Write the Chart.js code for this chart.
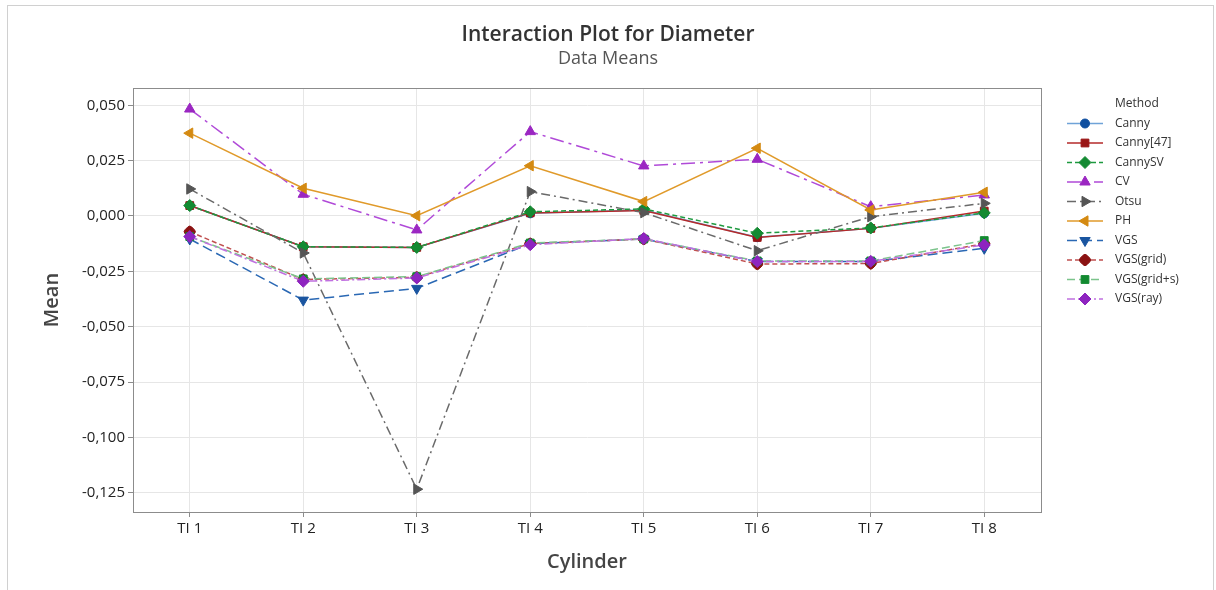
<!DOCTYPE html>
<html>
<head>
<meta charset="utf-8">
<script src="https://cdn.jsdelivr.net/npm/chart.js@4.4.0/dist/chart.umd.min.js"></script>
<style>
  html, body { margin: 0; padding: 0; background: #fff; }
  #wrap { position: relative; width: 1216px; height: 590px; }
</style>
</head>
<body>
<div id="wrap"><canvas id="c" width="1216" height="590"></canvas></div>
<script>
const categories = ['TI 1', 'TI 2', 'TI 3', 'TI 4', 'TI 5', 'TI 6', 'TI 7', 'TI 8'];
const yTicks = [0.050, 0.025, 0.000, -0.025, -0.050, -0.075, -0.100, -0.125];

const canny      = [0.0047, -0.0139, -0.0142, 0.0012, 0.0027, -0.0096, -0.0056, 0.0012];
const canny47    = [0.0047, -0.0139, -0.0142, 0.0014, 0.0025, -0.0097, -0.0056, 0.0022];
const cannySV    = [0.0047, -0.0139, -0.0142, 0.0019, 0.0032, -0.0078, -0.0054, 0.0014];
const cv         = [0.0483, 0.0098, -0.0063, 0.0381, 0.0226, 0.0256, 0.0042, 0.0095];
const otsu       = [0.0122, -0.0167, -0.1234, 0.0110, 0.0015, -0.0157, -0.0003, 0.0057];
const ph         = [0.0374, 0.0125, 0.0001, 0.0227, 0.0065, 0.0306, 0.0027, 0.0107];
const vgs        = [-0.0104, -0.0380, -0.0327, -0.0125, -0.0104, -0.0206, -0.0206, -0.0146];
const vgsGrid    = [-0.0071, -0.0287, -0.0277, -0.0125, -0.0104, -0.0217, -0.0215, -0.0125];
const vgsGridS   = [-0.0093, -0.0284, -0.0274, -0.0122, -0.0104, -0.0203, -0.0203, -0.0111];
const vgsRay     = [-0.0093, -0.0295, -0.0280, -0.0130, -0.0102, -0.0206, -0.0205, -0.0131];

function ds(label, data, line, marker, dash, style, rot, radius) {
  return {
    label, data,
    borderColor: line, backgroundColor: marker,
    pointBackgroundColor: marker, pointBorderColor: marker,
    borderWidth: 1.5, borderDash: dash,
    pointStyle: style, pointRotation: rot || 0,
    pointRadius: radius || 5.5, pointBorderWidth: 1,
    tension: 0, fill: false
  };
}

const datasets = [
  ds('Canny', canny, '#6fa3d8', '#0f4fa0', [], 'circle', 0, 4.5),
  ds('Canny[47]', canny47, '#b52a2a', '#9a1616', [], 'rect', 0, 5.5),
  ds('CannySV', cannySV, '#1e9a40', '#148a32', [5, 3], 'rectRot', 0, 6),
  ds('CV', cv, '#b04ad8', '#9b27c2', [14, 5, 3, 5], 'triangle', 0, 6),
  ds('Otsu', otsu, '#6a6a6a', '#555555', [9, 4, 2, 4], 'triangle', 90, 6),
  ds('PH', ph, '#e09a2a', '#d48a12', [], 'triangle', 270, 6),
  ds('VGS', vgs, '#2a68b4', '#1a55a0', [10, 5], 'triangle', 180, 6),
  ds('VGS(grid)', vgsGrid, '#c05050', '#8b1212', [5, 3], 'rectRounded', 45, 5.5),
  ds('VGS(grid+s)', vgsGridS, '#7cc48c', '#128a30', [8, 4], 'rect', 0, 5.5),
  ds('VGS(ray)', vgsRay, '#c070e0', '#8e24c0', [8, 3, 2, 3], 'rectRot', 0, 6)
];
datasets.forEach((d, i) => { d.order = datasets.length - i; });

const FONT = "'Open Sans', 'Noto Sans', sans-serif";

const framePlugin = {
  id: 'frame',
  beforeDraw(chart) {
    const ctx = chart.ctx;
    ctx.save();
    ctx.strokeStyle = '#d0d0d0';
    ctx.lineWidth = 1;
    ctx.strokeRect(7.5, 5.5, 1206, 600);
    ctx.restore();
  },
  beforeDatasetsDraw(chart) {
    const a = chart.chartArea, ctx = chart.ctx;
    ctx.save();
    ctx.strokeStyle = '#8c8c8c';
    ctx.lineWidth = 1;
    ctx.strokeRect(Math.round(a.left) + 0.5, Math.round(a.top) + 0.5, Math.round(a.right - a.left), Math.round(a.bottom - a.top));
    ctx.restore();
  },
  afterDraw(chart) {
    const ctx = chart.ctx;
    const x0 = 1067, x1 = 1103, tx = 1115;
    let y = 104;
    ctx.save();
    ctx.font = '12px ' + FONT;
    ctx.fillStyle = '#333';
    ctx.textBaseline = 'middle';
    ctx.textAlign = 'left';
    ctx.fillText('Method', tx, y);
    y = 123.5;
    chart.data.datasets.forEach(d => {
      ctx.save();
      ctx.strokeStyle = d.borderColor;
      ctx.lineWidth = d.borderWidth;
      ctx.setLineDash(d.borderDash);
      ctx.beginPath();
      ctx.moveTo(x0, y);
      ctx.lineTo(x1, y);
      ctx.stroke();
      ctx.setLineDash([]);
      ctx.fillStyle = d.pointBackgroundColor;
      ctx.strokeStyle = d.pointBorderColor;
      ctx.lineWidth = 1;
      Chart.helpers.drawPoint(ctx, {pointStyle: d.pointStyle, rotation: d.pointRotation, radius: d.pointRadius, borderWidth: 1}, (x0 + x1) / 2, y);
      ctx.restore();
      ctx.fillStyle = '#333';
      ctx.fillText(d.label, tx, y);
      y += 19.5;
    });
    ctx.restore();
  }
};

function fmt(v) {
  if (Math.abs(v) < 1e-9) v = 0;
  return v.toFixed(3).replace('.', ',');
}

new Chart(document.getElementById('c'), {
  type: 'line',
  data: { labels: categories, datasets },
  plugins: [framePlugin],
  options: {
    responsive: false,
    animation: false,
    layout: { padding: { left: 0, right: 0, top: 0, bottom: 0 } },
    plugins: {
      legend: { display: false },
      tooltip: { enabled: false },
      title: {
        display: true,
        text: 'Interaction Plot for Diameter',
        color: '#333',
        font: { family: FONT, size: 21, weight: '600', lineHeight: 1.2 },
        padding: { top: 22, bottom: 0 }
      },
      subtitle: {
        display: true,
        text: 'Data Means',
        color: '#555',
        font: { family: FONT, size: 18, weight: 'normal', lineHeight: 1.2 },
        padding: { top: 1, bottom: 18.2 }
      }
    },
    scales: {
      x: {
        type: 'category',
        offset: true,
        grid: { color: '#e6e6e6', tickColor: '#8c8c8c', tickLength: 5, drawTicks: true },
        border: { color: '#8c8c8c' },
        ticks: { color: '#222', font: { family: FONT, size: 15 }, padding: 3, maxRotation: 0 },
        title: { display: true, text: 'Cylinder', color: '#444', font: { family: FONT, size: 20, weight: '600', lineHeight: 1.2 }, padding: { top: 0, bottom: 16 } },
        afterFit(scale) { scale.height = 78; }
      },
      y: {
        type: 'linear',
        position: 'left',
        min: -0.1337,
        max: 0.0578,
        grid: { color: '#e6e6e6', tickColor: '#8c8c8c', tickLength: 5 },
        border: { color: '#8c8c8c' },
        afterBuildTicks(scale) { scale.ticks = yTicks.map(v => ({ value: v })); },
        ticks: { color: '#222', font: { family: FONT, size: 15 }, padding: 3, callback: v => fmt(v) },
        title: { display: true, text: 'Mean', color: '#444', font: { family: FONT, size: 20, weight: '600', lineHeight: 1.2 }, padding: { top: 40, bottom: 0 } },
        afterFit(scale) { scale.width = 133; }
      },
      yRight: {
        type: 'linear',
        position: 'right',
        display: true,
        grid: { display: false, drawTicks: false },
        border: { display: false },
        ticks: { display: false },
        afterFit(scale) { scale.width = 175; }
      }
    }
  }
});
</script>
</body>
</html>
